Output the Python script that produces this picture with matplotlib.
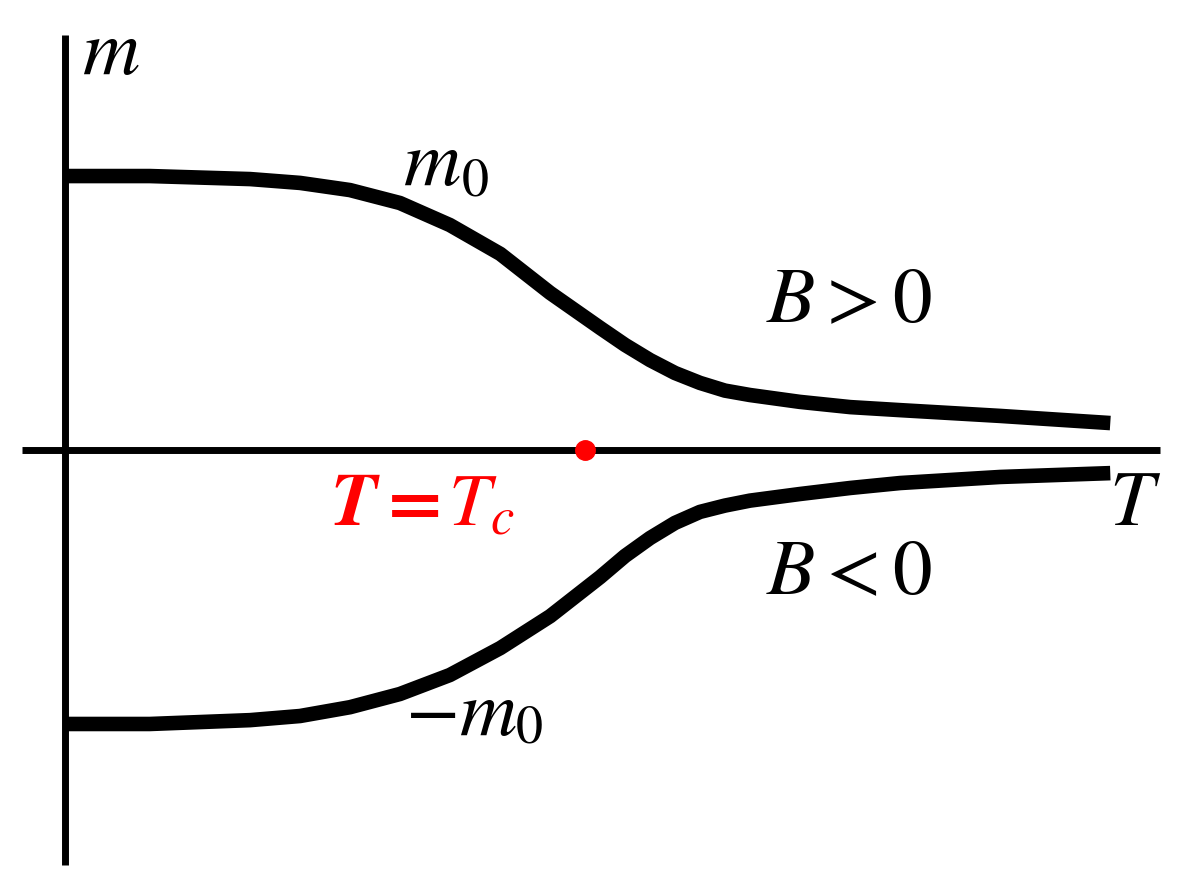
import matplotlib
matplotlib.use("Agg")
import matplotlib.pyplot as plt

plt.rcParams['mathtext.fontset'] = 'stix'
plt.rcParams['font.family'] = 'STIXGeneral'

# magnetisation curves (T in units of Tc, m in units of m0)
T_pts = [0.000, 0.163, 0.356, 0.452, 0.548, 0.644, 0.740, 0.837, 0.933, 1.029,
         1.077, 1.125, 1.173, 1.221, 1.269, 1.317, 1.413, 1.510, 1.606, 1.798, 2.010]
m_up = [0.996, 0.996, 0.985, 0.971, 0.945, 0.898, 0.818, 0.713, 0.571, 0.444,
        0.382, 0.327, 0.280, 0.244, 0.216, 0.200, 0.175, 0.156, 0.145, 0.124, 0.098]
m_dn = [-0.996, -0.996, -0.982, -0.967, -0.935, -0.887, -0.818, -0.720, -0.604, -0.462,
        -0.385, -0.320, -0.265, -0.225, -0.202, -0.184, -0.160, -0.138, -0.120, -0.098, -0.084]

Tc = 1.0

fig = plt.figure(figsize=(11.81, 8.86), dpi=100)
ax = fig.add_axes([0, 0, 1, 1])
ax.set_xlim(-0.125, 2.146)
ax.set_ylim(-1.585, 1.636)
ax.axis('off')

# axes drawn by hand
ax.plot([-0.083, 2.106], [0, 0], color='black', lw=5, solid_capstyle='butt')
ax.plot([0, 0], [-1.509, 1.509], color='black', lw=5, solid_capstyle='butt')

ax.plot(T_pts, m_up, color='black', lw=10.5, solid_capstyle='butt', solid_joinstyle='round')
ax.plot(T_pts, m_dn, color='black', lw=10.5, solid_capstyle='butt', solid_joinstyle='round')

ax.plot([Tc], [0], 'o', color='red', ms=14, zorder=5)

fs = 57
ax.text(0.033, 1.367, r'$m$', fontsize=fs, ha='left', va='baseline')
ax.text(0.65, 0.964, r'$m$', fontsize=fs, ha='left', va='baseline')
ax.text(0.762, 0.927, r'$\mathrm{0}$', fontsize=39, ha='left', va='baseline')
ax.text(0.654, -1.036, r'$-m$', fontsize=fs, ha='left', va='baseline')
ax.text(0.866, -1.063, r'$\mathrm{0}$', fontsize=39, ha='left', va='baseline')
ax.text(1.348, 0.465, r'$B>0$', fontsize=fs, ha='left', va='baseline')
ax.text(1.348, -0.524, r'$B<0$', fontsize=fs, ha='left', va='baseline')
ax.text(2.008, -0.273, r'$T$', fontsize=fs, ha='left', va='baseline')
ax.text(0.51, -0.273, r'$\boldsymbol{T=T_c}$', fontsize=54, color='red',
        ha='left', va='baseline')

plt.savefig("out.png", dpi=100)
